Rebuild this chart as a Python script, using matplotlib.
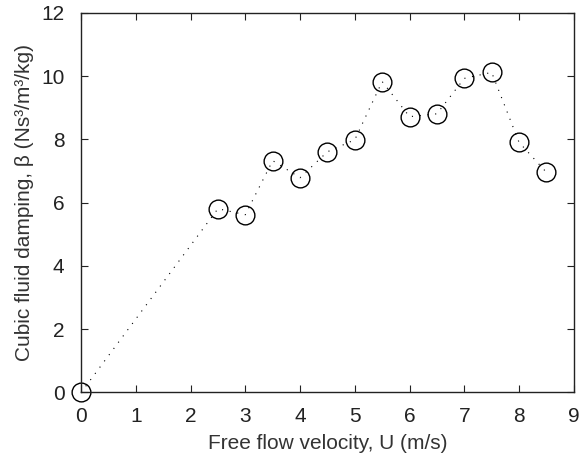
import matplotlib
matplotlib.use("Agg")
import matplotlib.pyplot as plt

# free flow velocity (m/s) and cubic fluid damping
velocity = [0, 2.5, 3, 3.5, 4, 4.5, 5, 5.5, 6, 6.5, 7, 7.5, 8, 8.5]
damping = [0, 5.81, 5.62, 7.33, 6.79, 7.61, 7.99, 9.83, 8.72, 8.81, 9.93, 10.12, 7.91, 6.96]
xticks = list(range(0, 10))
yticks = list(range(0, 13, 2))

plt.rcParams["font.family"] = ["Liberation Sans", "DejaVu Sans"]

fig = plt.figure(figsize=(5.79, 4.61), dpi=100)
ax = fig.add_axes([0.140, 0.1486, 0.851, 0.8234])
ax.plot(velocity, damping, color="black", linestyle=(0, (1, 6)), linewidth=0.8,
        marker="o", markersize=13.5, markerfacecolor="none",
        markeredgecolor="black", markeredgewidth=1.0, clip_on=False)
ax.set_xlim(0, 9)
ax.set_ylim(0, 12)
ax.set_xticks(xticks)
ax.set_yticks(yticks)
ax.tick_params(direction="in", length=5, width=0.8, labelsize=15,
               top=True, right=True, colors="#222222")
ax.tick_params(axis="x", pad=10.5)
ax.tick_params(axis="y", pad=12)
for s in ax.spines.values():
    s.set_linewidth(1.0)
    s.set_color("#222222")
ax.set_xlabel("Free flow velocity, U (m/s)", fontsize=15, color="#333333", labelpad=6)
ax.set_ylabel("Cubic fluid damping, β (Ns³/m³/kg)", fontsize=15, color="#333333", labelpad=5)
fig.savefig("out.png", dpi=100)
